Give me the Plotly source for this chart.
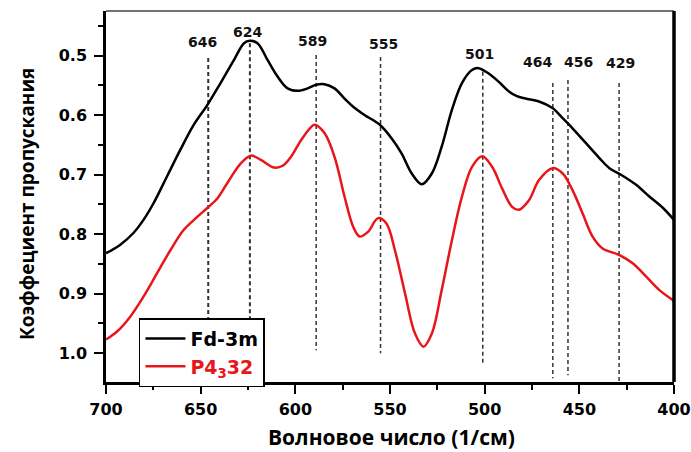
import plotly.graph_objects as go

# IR transmission spectra, wavenumber (1/cm) vs transmission coefficient
fd3m_wn = [700, 692.6, 685.5, 680.2, 674.9, 667.8, 660.7, 653.6, 646.5, 639.5,
           632.4, 627.1, 624.1, 620, 614.7, 609.4, 604.1, 598.8, 593.5, 589,
           584.6, 579.3, 574, 568.6, 563.3, 555.4, 549.1, 543.9, 538.5, 533.2,
           527.9, 522.7, 517.3, 512, 506.7, 503.2, 497.9, 492.5, 487.2, 483,
           478.4, 471.3, 464.2, 458.8, 453.6, 446.5, 439.4, 434.1, 428, 420,
           412.9, 405.8, 400]
fd3m_t = [0.832, 0.818, 0.798, 0.776, 0.748, 0.703, 0.658, 0.616, 0.583, 0.546,
          0.507, 0.479, 0.475, 0.479, 0.507, 0.535, 0.555, 0.559, 0.555, 0.549,
          0.548, 0.555, 0.572, 0.588, 0.600, 0.616, 0.639, 0.664, 0.698, 0.716,
          0.698, 0.653, 0.591, 0.546, 0.524, 0.521, 0.530, 0.544, 0.560, 0.568,
          0.572, 0.577, 0.588, 0.605, 0.622, 0.647, 0.672, 0.689, 0.700, 0.717,
          0.737, 0.756, 0.776]

p4332_wn = [700, 694.3, 687.3, 680.2, 673.1, 666, 659, 651.8, 646.5, 641.2,
            635.9, 628.8, 623.5, 618.2, 611.2, 606.7, 602.3, 597, 591.7, 589.9,
            584.6, 579.3, 574, 569.5, 566, 561.6, 556.3, 551.9, 547.4, 542.1,
            536.8, 532.3, 527.9, 522.7, 517.3, 512, 506.7, 501.3, 496, 490.8,
            485.5, 481.9, 476.6, 471.3, 464.2, 458.8, 453.6, 448.3, 443, 437.7,
            428.8, 421.8, 414.8, 407.7, 400]
p4332_t = [0.977, 0.964, 0.939, 0.905, 0.866, 0.827, 0.793, 0.771, 0.756, 0.740,
           0.714, 0.681, 0.668, 0.675, 0.688, 0.685, 0.670, 0.642, 0.620, 0.616,
           0.630, 0.670, 0.737, 0.787, 0.804, 0.796, 0.773, 0.782, 0.827, 0.899,
           0.967, 0.989, 0.967, 0.894, 0.810, 0.737, 0.687, 0.669, 0.687, 0.723,
           0.754, 0.759, 0.743, 0.709, 0.689, 0.698, 0.726, 0.765, 0.804, 0.824,
           0.835, 0.849, 0.871, 0.894, 0.912]

# marked band positions (1/cm) and extent of their guide lines
band_wn = [646, 624, 589, 555, 501, 464, 456, 429]
band_top = [0.504, 0.479, 0.499, 0.502, 0.527, 0.546, 0.541, 0.546]
band_bottom = [0.943, 0.943, 0.995, 1.0, 1.02, 1.042, 1.037, 1.05]
# where each band label sits
label_wn = [649, 625.3, 591, 553.6, 502.5, 472.2, 450.4, 428]
label_t = [0.477, 0.460, 0.475, 0.480, 0.497, 0.511, 0.510, 0.512]

x_ticks = [700, 650, 600, 550, 500, 450, 400]
y_ticks = [0.5, 0.6, 0.7, 0.8, 0.9, 1.0]

RED = "#e8161b"
TICK_FONT = dict(family="DejaVu Sans", size=16, color="black", weight="bold")

fig = go.Figure()
fig.add_trace(go.Scatter(x=fd3m_wn, y=fd3m_t, mode="lines", name="Fd-3m",
                         line=dict(color="black", width=2.5, shape="spline", smoothing=1.0)))
fig.add_trace(go.Scatter(x=p4332_wn, y=p4332_t, mode="lines",
                         name=f"<span style='color:{RED}'>P4<sub>3</sub>32</span>",
                         line=dict(color=RED, width=2.5, shape="spline", smoothing=1.0)))

for i, (wn, top, bot) in enumerate(zip(band_wn, band_top, band_bottom)):
    fig.add_shape(type="line", xref="x", yref="y", x0=wn, x1=wn, y0=top, y1=bot,
                  line=dict(color="#333333", width=2 if i < 2 else 1.5, dash="4px,3px"),
                  layer="below")

for wn, lx, ly in zip(band_wn, label_wn, label_t):
    fig.add_annotation(x=lx, y=ly, xref="x", yref="y", text=str(wn), showarrow=False,
                       font=dict(family="DejaVu Sans", size=14, color="#111111", weight="bold"),
                       xanchor="center", yanchor="middle")

# axis titles
fig.add_annotation(x=0.502, y=-0.148, xref="paper", yref="paper",
                   text="Волновое число (1/см)", showarrow=False,
                   font=dict(family="Open Sans", size=21, color="black", weight="bold"),
                   xanchor="center", yanchor="middle")
fig.add_annotation(x=-0.139, y=0.48, xref="paper", yref="paper",
                   text="Коэффециент пропускания", showarrow=False, textangle=-90,
                   font=dict(family="Open Sans", size=19, color="black", weight="bold"),
                   xanchor="center", yanchor="middle")

# frame: thin grey top edge, heavy right edge
fig.add_shape(type="line", xref="paper", yref="paper", x0=0, x1=1, y0=1, y1=1,
              line=dict(color="#444444", width=1.5))
fig.add_shape(type="line", xref="paper", yref="paper", x0=1, x1=1, y0=0, y1=1,
              line=dict(color="black", width=3.5))

fig.update_xaxes(range=[700, 400], tickvals=x_ticks, ticks="outside", ticklen=9,
                 tickwidth=2, tickcolor="black", showline=True, linewidth=2.5,
                 linecolor="black", showgrid=False, zeroline=False, automargin=False,
                 tickfont=TICK_FONT, ticklabelstandoff=2,
                 minor=dict(dtick=25, ticks="outside", ticklen=5, tickwidth=2,
                            tickcolor="black", showgrid=False))
fig.update_yaxes(range=[1.0484, 0.4249], tickvals=y_ticks, ticktext=[f"{v:.1f}" for v in y_ticks],
                 ticks="outside", ticklen=9, tickwidth=2, tickcolor="black",
                 showline=True, linewidth=2.5, linecolor="black", showgrid=False,
                 zeroline=False, automargin=False, tickfont=TICK_FONT, ticklabelstandoff=4,
                 minor=dict(dtick=0.05, tick0=0.45, ticks="outside", ticklen=5,
                            tickwidth=2, tickcolor="black", showgrid=False))

fig.update_layout(
    width=691, height=452,
    margin=dict(l=106, r=17, t=11, b=70),
    paper_bgcolor="white", plot_bgcolor="white",
    showlegend=True,
    legend=dict(x=0.058, y=0.172, xanchor="left", yanchor="top",
                bgcolor="white", bordercolor="black", borderwidth=1.5,
                font=dict(family="DejaVu Sans", size=19, color="black", weight="bold"),
                tracegroupgap=0, itemwidth=40),
)

fig.write_html("out.html")
